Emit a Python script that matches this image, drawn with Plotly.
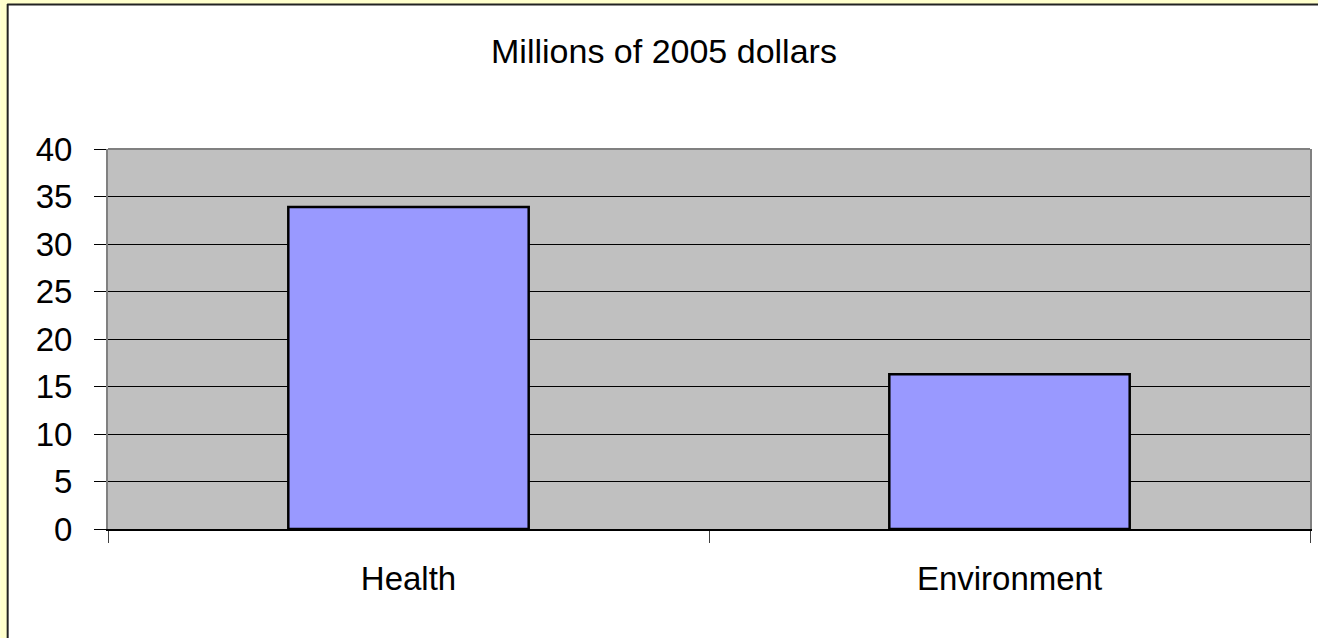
import plotly.graph_objects as go

# Spending by area, millions of 2005 dollars
categories = ["Health", "Environment"]
values = [33.9, 16.3]
y_ticks = [0, 5, 10, 15, 20, 25, 30, 35, 40]

W, H = 1320, 638
ML, MR, MT, MB = 108, 8, 149, 109
PW, PH = W - ML - MR, H - MT - MB


def px_x(px):
    return (px - ML) / PW


def px_y(py):
    return (H - MB - py) / PH


FONT = "Liberation Sans, Arial, sans-serif"
FS = 33

fig = go.Figure(
    go.Bar(
        x=categories,
        y=values,
        marker=dict(color="#9999FF", line=dict(color="#000000", width=2.5)),
        width=0.4,
    )
)

shapes = [
    # pale yellow strips along the left and top edges
    dict(type="rect", xref="paper", yref="paper", layer="below",
         x0=px_x(0), x1=px_x(7), y0=px_y(H), y1=px_y(0),
         fillcolor="#FFFFCC", line=dict(width=0)),
    dict(type="rect", xref="paper", yref="paper", layer="below",
         x0=px_x(0), x1=px_x(W), y0=px_y(4), y1=px_y(0),
         fillcolor="#FFFFCC", line=dict(width=0)),
    # dark frame edges
    dict(type="line", xref="paper", yref="paper", layer="below",
         x0=px_x(7.5), x1=px_x(7.5), y0=px_y(H), y1=px_y(4),
         line=dict(color="#222222", width=2)),
    dict(type="line", xref="paper", yref="paper", layer="below",
         x0=px_x(7), x1=px_x(W - 6), y0=px_y(4.5), y1=px_y(4.5),
         line=dict(color="#222222", width=2)),
    dict(type="line", xref="paper", yref="paper", layer="below",
         x0=px_x(W - 6), x1=px_x(W), y0=px_y(4.5), y1=px_y(4.5),
         line=dict(color="#222222", width=2)),
    # plot area top border
    dict(type="line", xref="paper", yref="paper", layer="above",
         x0=0, x1=1, y0=1, y1=1,
         line=dict(color="#808080", width=2)),
    # keep the margin right of the plot area clean
    dict(type="rect", xref="paper", yref="paper", layer="above",
         x0=px_x(1314), x1=px_x(W), y0=px_y(147), y1=px_y(6),
         fillcolor="#FFFFFF", line=dict(width=0)),
]

fig.update_layout(
    width=W,
    height=H,
    margin=dict(l=ML, r=MR, t=MT, b=MB),
    paper_bgcolor="#FFFFFF",
    plot_bgcolor="#C0C0C0",
    font=dict(family=FONT, size=FS, color="#000000"),
    title=dict(text="Millions of 2005 dollars", x=0.503, xref="container",
               xanchor="center", y=1 - 51 / H, yanchor="middle",
               font=dict(family=FONT, size=34, color="#000000")),
    showlegend=False,
    bargap=0.6,
    shapes=shapes,
)

fig.update_xaxes(
    showgrid=False,
    showline=True, linecolor="#000000", linewidth=1.5,
    ticks="outside", tickson="boundaries", ticklen=12, tickcolor="#404040",
    tickwidth=1,
    ticklabelstandoff=20,
    tickfont=dict(family=FONT, size=FS, color="#000000"),
)

fig.update_yaxes(
    range=[0, 40],
    tickvals=y_ticks,
    ticktext=[str(v) for v in y_ticks],
    showgrid=True, gridcolor="#000000", gridwidth=1,
    showline=True, linecolor="#808080", linewidth=2, mirror=True,
    ticks="outside", ticklen=12, tickcolor="#000000", tickwidth=1,
    ticklabelstandoff=15,
    zeroline=False,
    tickfont=dict(family=FONT, size=FS, color="#000000"),
)

fig.write_html("out.html")
